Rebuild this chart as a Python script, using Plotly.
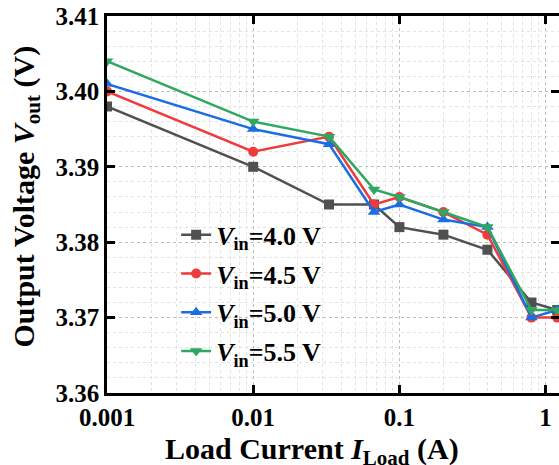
import math
import plotly.graph_objects as go

# Data
load_current = [0.001, 0.01, 0.033, 0.067, 0.1, 0.2, 0.4, 0.8, 1.2]
v_40 = [3.398, 3.390, 3.385, 3.385, 3.382, 3.381, 3.379, 3.372, 3.371]
v_45 = [3.400, 3.392, 3.394, 3.385, 3.386, 3.384, 3.381, 3.370, 3.370]
v_50 = [3.401, 3.395, 3.393, 3.384, 3.385, 3.383, 3.382, 3.370, 3.371]
v_55 = [3.404, 3.396, 3.394, 3.387, 3.386, 3.384, 3.382, 3.371, 3.371]
series_names = ["<i>V</i><sub>in</sub>=4.0 V", "<i>V</i><sub>in</sub>=4.5 V",
                "<i>V</i><sub>in</sub>=5.0 V", "<i>V</i><sub>in</sub>=5.5 V"]
x_tickvals = [0.001, 0.01, 0.1, 1]
x_ticktext = ["0.001", "0.01", "0.1", "1"]
y_tickvals = [3.36, 3.37, 3.38, 3.39, 3.40, 3.41]

colors = ["#505050", "#ef3b3b", "#1b6de3", "#2ea860"]
symbols = ["square", "circle", "triangle-up", "triangle-down"]
sizes = [10, 10, 11, 11]

FONT = "Liberation Serif, Times New Roman, Times, serif"

fig = go.Figure()
for i, (ys, name) in enumerate(zip([v_40, v_45, v_50, v_55], series_names)):
    fig.add_trace(go.Scatter(
        x=load_current, y=ys, mode="lines+markers", name=name,
        legendgroup=f"g{i}",
        line=dict(color=colors[i], width=2.5),
        marker=dict(symbol=symbols[i], size=sizes[i], color=colors[i]),
    ))

# invisible trace on right y-axis for mirrored ticks without line
fig.add_trace(go.Scatter(x=[load_current[0]], y=[v_40[0]], yaxis="y2",
                         showlegend=False, mode="markers",
                         marker=dict(opacity=0), hoverinfo="skip"))

minor_x = [m * 10 ** e for e in (-3, -2, -1) for m in range(2, 10)] + [2]

fig.update_layout(
    width=559, height=465,
    margin=dict(l=107, r=0, t=16, b=72),
    paper_bgcolor="white", plot_bgcolor="white",
    font=dict(family=FONT, size=24, color="black"),
    showlegend=True,
    legend=dict(
        x=0.153, y=0.482, xanchor="left", yanchor="top",
        bgcolor="rgba(0,0,0,0)", borderwidth=0,
        font=dict(family=FONT, size=26, color="black", weight="bold"),
        tracegroupgap=2,
    ),
    xaxis=dict(
        type="log", range=[-3, math.log10(1.235)],
        tickvals=x_tickvals, ticktext=x_ticktext,
        ticks="inside", ticklen=8, tickwidth=2.5, tickcolor="black",
        showline=True, linewidth=2.5, linecolor="black", mirror="ticks",
        showgrid=True, gridcolor="#bdbdbd", griddash="dot", gridwidth=1,
        tickfont=dict(family=FONT, size=25, weight="bold"),
        minor=dict(tickvals=minor_x, showgrid=True, gridcolor="#e2e2e2",
                   griddash="dot", gridwidth=1, ticklen=0),
        zeroline=False,
    ),
    yaxis=dict(
        range=[3.36, 3.41], tickvals=y_tickvals, tickformat=".2f",
        ticks="inside", ticklen=8, tickwidth=2.5, tickcolor="black",
        showline=True, linewidth=2.5, linecolor="black", mirror=False,
        showgrid=True, gridcolor="#bdbdbd", griddash="dot", gridwidth=1,
        tickfont=dict(family=FONT, size=25, weight="bold"),
        minor=dict(dtick=0.002, showgrid=True, gridcolor="#e2e2e2",
                   griddash="dot", gridwidth=1, ticklen=0),
        zeroline=False,
    ),
    yaxis2=dict(
        overlaying="y", side="right", matches="y", range=[3.36, 3.41],
        tickvals=y_tickvals, ticks="inside", ticklen=8, tickwidth=2.5,
        tickcolor="black", showticklabels=False, showline=False,
        showgrid=False, zeroline=False,
    ),
    annotations=[
        dict(text="Load Current <i>I</i><sub>Load</sub> (A)",
             xref="paper", yref="paper", x=0.4535, y=-0.154,
             xanchor="center", yanchor="middle", showarrow=False,
             font=dict(family=FONT, size=30, color="black", weight="bold")),
        dict(text="Output Voltage <i>V</i><sub>out</sub> (V)",
             xref="paper", yref="paper", x=-0.18, y=0.52, textangle=-90,
             xanchor="center", yanchor="middle", showarrow=False,
             font=dict(family=FONT, size=30, color="black", weight="bold")),
    ],
)

fig.write_html("out.html")
